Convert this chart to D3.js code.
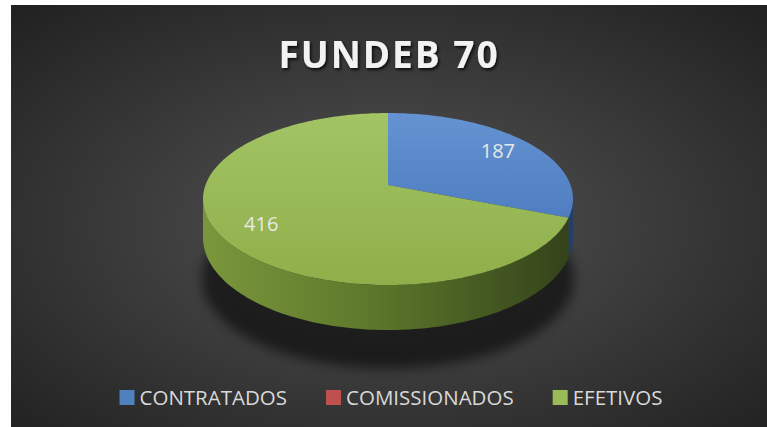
<!DOCTYPE html>
<html>
<head>
<meta charset="utf-8">
<script src="https://cdn.jsdelivr.net/npm/d3@7"></script>
<style>
body{margin:0;background:#fff;}
svg{display:block;}
</style>
</head>
<body>
<div id="chart"></div>
<script>
// chart data
var categories = ['CONTRATADOS', 'COMISSIONADOS', 'EFETIVOS'];
var values = [187, 0, 416];
var chartTitle = 'FUNDEB 70';

// colours per category: top face (light, dark), side (left, mid, right)
var topLight = ['#6593d2', '#d06a68', '#a3c465'];
var topDark = ['#3f70b6', '#b84845', '#8faf4a'];
var sideLeft = ['#3c65a0', '#9a3a38', '#7a973c'];
var sideMid = ['#2f5690', '#7d2a28', '#5d782b'];
var sideRight = ['#223f68', '#5a1e1c', '#33421a'];
var legendCol = ['#4f81bd', '#c0504d', '#9bbb59'];

var svpWidth = 767, svpHeight = 427;
// 3d pie geometry (simple perspective on the top face)
var cx = 388, cy = 185, rx = 182.5, ry = 83.7, k = 0.163, depth = 37.7;

var svg = d3.select('#chart')
	.append('svg')
	.attr('width', svpWidth)
	.attr('height', svpHeight);

var defs = svg.append('defs');

// background
var bg = defs.append('radialGradient').attr('id', 'bg')
	.attr('cx', '50%').attr('cy', '52%').attr('r', '70%');
bg.append('stop').attr('offset', '0%').attr('stop-color', '#545454');
bg.append('stop').attr('offset', '100%').attr('stop-color', '#222222');

svg.append('rect')
	.attr('x', 11).attr('y', 5)
	.attr('width', svpWidth - 11).attr('height', svpHeight - 5)
	.attr('fill', 'url(#bg)');

// gradients for slices
categories.forEach(function (c, i) {
	var g = defs.append('linearGradient').attr('id', 'top' + i)
		.attr('gradientUnits', 'userSpaceOnUse')
		.attr('x1', 0).attr('y1', 113).attr('x2', 0).attr('y2', 285);
	g.append('stop').attr('offset', '0%').attr('stop-color', topLight[i]);
	g.append('stop').attr('offset', '100%').attr('stop-color', topDark[i]);
	var s = defs.append('linearGradient').attr('id', 'side' + i)
		.attr('gradientUnits', 'userSpaceOnUse')
		.attr('x1', 203).attr('y1', 0).attr('x2', 573).attr('y2', 0);
	s.append('stop').attr('offset', '0%').attr('stop-color', sideLeft[i]);
	s.append('stop').attr('offset', '45%').attr('stop-color', sideMid[i]);
	s.append('stop').attr('offset', '100%').attr('stop-color', sideRight[i]);
});

var shadow = defs.append('filter').attr('id', 'shadow')
	.attr('x', '-20%').attr('y', '-50%').attr('width', '140%').attr('height', '200%');
shadow.append('feGaussianBlur').attr('stdDeviation', 6);

var tshadow = defs.append('filter').attr('id', 'tshadow')
	.attr('x', '-10%').attr('y', '-30%').attr('width', '120%').attr('height', '160%');
tshadow.append('feDropShadow')
	.attr('dx', 1.5).attr('dy', 2).attr('stdDeviation', 1.5)
	.attr('flood-color', '#000').attr('flood-opacity', 0.8);

// project an angle (clockwise from 12 o'clock) and radius fraction to screen
function proj(a, r) {
	var X = r * Math.sin(a), Z = r * Math.cos(a), w = 1 / (1 + k * Z);
	return [cx + rx * X * w, cy - ry * Z * w, w];
}
function rim(a0, a1, down) {
	var n = Math.max(2, Math.ceil((a1 - a0) / 0.02));
	var pts = d3.range(n + 1).map(function (j) {
		var p = proj(a0 + (a1 - a0) * j / n, 1);
		return down ? [p[0], p[1] + depth * p[2]] : [p[0], p[1]];
	});
	return pts;
}

var pie = d3.pie().sort(null).value(function (d) { return d; });
var arcs = pie(values);

// shadow under pie
var sb = proj(Math.PI, 1);
svg.append('ellipse')
	.attr('cx', cx).attr('cy', (proj(Math.PI / 2, 1)[1] + sb[1]) / 2 + depth + 6)
	.attr('rx', rx + 4).attr('ry', (sb[1] - proj(0, 1)[1]) / 2 + 4)
	.attr('fill', '#000').attr('opacity', 0.55)
	.attr('filter', 'url(#shadow)');

// visible part of outer wall
var s1 = Math.acos(-k), s2 = 2 * Math.PI - s1;
svg.append('g')
	.selectAll('path')
	.data(arcs.filter(function (d) { return d.value > 0; }))
	.enter()
	.append('path')
	.attr('d', function (d) {
		var a0 = Math.max(d.startAngle, s1), a1 = Math.min(d.endAngle, s2);
		if (a1 <= a0) return null;
		var pts = rim(a0, a1, false).concat(rim(a0, a1, true).reverse());
		return d3.line()(pts) + 'Z';
	})
	.attr('fill', function (d) { return 'url(#side' + d.index + ')'; });

// top faces
svg.append('g')
	.selectAll('path')
	.data(arcs.filter(function (d) { return d.value > 0; }))
	.enter()
	.append('path')
	.attr('d', function (d) {
		var pts = [[cx, cy]].concat(rim(d.startAngle, d.endAngle, false));
		return d3.line()(pts) + 'Z';
	})
	.attr('fill', function (d) { return 'url(#top' + d.index + ')'; });

// data labels
svg.append('g')
	.selectAll('text')
	.data(arcs.filter(function (d) { return d.value > 0; }))
	.enter()
	.append('text')
	.text(function (d) { return d.value; })
	.attr('x', function (d) { return proj((d.startAngle + d.endAngle) / 2, 0.78)[0]; })
	.attr('y', function (d) { return proj((d.startAngle + d.endAngle) / 2, 0.78)[1] + 7; })
	.attr('text-anchor', 'middle')
	.style('font-family', '"Open Sans", sans-serif')
	.style('font-size', '20px')
	.style('fill', '#e8e8e8');

// title
svg.append('text')
	.text(chartTitle)
	.attr('x', 389)
	.attr('y', 68)
	.attr('text-anchor', 'middle')
	.style('font-family', '"Open Sans", sans-serif')
	.style('font-weight', 'bold')
	.style('font-size', '37px')
	.style('letter-spacing', '2px')
	.style('fill', '#f2f2f2')
	.attr('filter', 'url(#tshadow)');

// legend
var legend = svg.append('g');
var items = legend.selectAll('g')
	.data(categories)
	.enter()
	.append('g');
items.append('rect')
	.attr('width', 15).attr('height', 15)
	.attr('y', 390)
	.attr('fill', function (d, i) { return legendCol[i]; });
items.append('text')
	.text(function (d) { return d; })
	.attr('x', 20)
	.attr('y', 405)
	.style('font-family', '"Open Sans", sans-serif')
	.style('font-size', '20.5px')
	.style('fill', '#d9d9d9');
var widths = [];
items.select('text').each(function () { widths.push(20 + this.getComputedTextLength()); });
var gap = 39;
var total = d3.sum(widths) + gap * (widths.length - 1);
var xpos = 391 - total / 2;
items.attr('transform', function (d, i) {
	var t = 'translate(' + xpos + ',0)';
	xpos += widths[i] + gap;
	return t;
});
</script>
</body>
</html>
